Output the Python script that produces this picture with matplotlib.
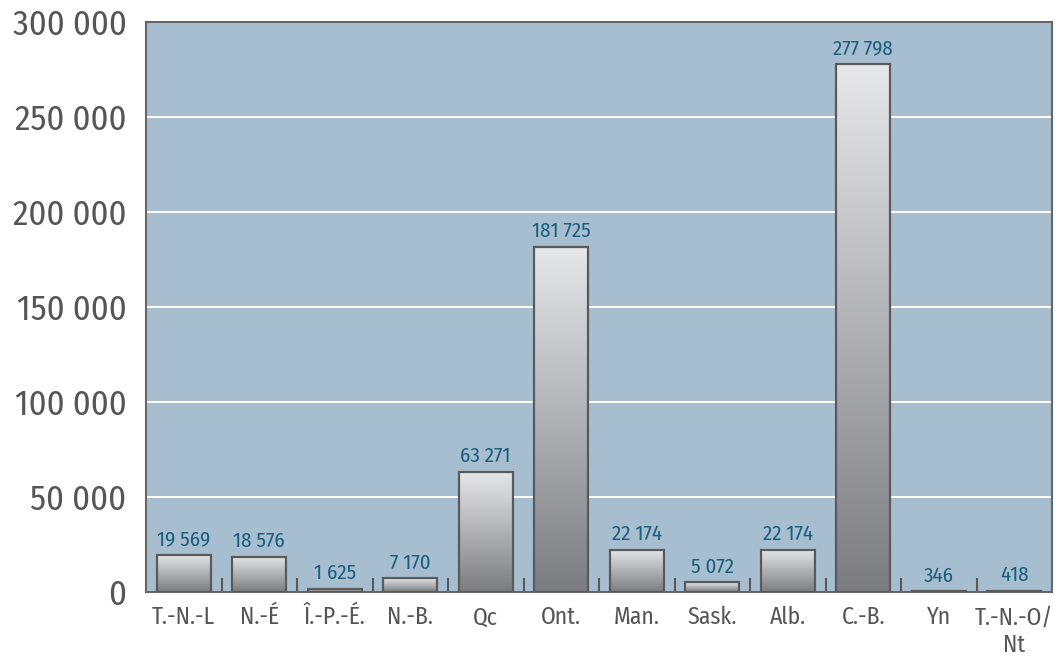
import matplotlib
matplotlib.use("Agg")
import matplotlib.pyplot as plt
import numpy as np
from matplotlib import font_manager
from matplotlib.colors import LinearSegmentedColormap

names = {f.name for f in font_manager.fontManager.ttflist}
cands = ['Fira Sans Condensed', 'PT Sans Narrow', 'Open Sans Condensed', 'Roboto Condensed',
         'Source Sans 3', 'Source Sans Pro', 'Open Sans']
chosen = next((c for c in cands if c in names), 'DejaVu Sans')
plt.rcParams['font.family'] = [chosen, 'DejaVu Sans']

categories = ["T.-N.-L", "N.-É", "Î.-P.-É.", "N.-B.", "Qc", "Ont.", "Man.", "Sask.", "Alb.", "C.-B.", "Yn", "T.-N.-O/\nNt"]
values = [19569, 18576, 1625, 7170, 63271, 181725, 22174, 5072, 22174, 277798, 346, 418]
labels = ["19 569", "18 576", "1 625", "7 170", "63 271", "181 725", "22 174", "5 072", "22 174", "277 798", "346", "418"]
yticks = [0, 50000, 100000, 150000, 200000, 250000, 300000]
yticklabels = ["0", "50 000", "100 000", "150 000", "200 000", "250 000", "300 000"]

fig = plt.figure(figsize=(10.58, 6.59), dpi=100)
ax = fig.add_axes([146/1058, 1-592/659, 906/1058, 570/659])
ax.set_facecolor('#a7bed1')
x = np.arange(len(categories))
ax.set_xlim(-0.5, len(categories)-0.5)
ax.set_ylim(0, 300000)
ax.set_yticks(yticks)
ax.set_yticklabels(yticklabels, fontsize=25, color='#555555')
for yv in yticks[1:-1]:
    ax.axhline(yv, color='white', lw=1.5, zorder=1)

grad = np.linspace(1, 0, 256).reshape(-1, 1)
cmap = LinearSegmentedColormap.from_list('g', ['#7b7c80', '#e6e7e9'])
bars = ax.bar(x, values, width=0.72, facecolor='none', edgecolor='#5a5a5a', lw=1.6, zorder=4)
for i, b in enumerate(bars):
    x0, w, h = b.get_x(), b.get_width(), b.get_height()
    im = ax.imshow(grad, extent=[x0, x0+w, 0, h], aspect='auto', cmap=cmap, vmin=0, vmax=1,
                   zorder=3, origin='upper')
    im.set_clip_path(b)
    ax.text(x0 + w/2, h + 3000, labels[i], ha='center', va='bottom', fontsize=15,
            color='#1a5e7c', zorder=5)

ax.set_xticks(x)
ax.set_xticklabels(categories, fontsize=17, color='#555555', linespacing=1.25)
ax.tick_params(axis='x', length=0, pad=10)
ax.tick_params(axis='y', length=0, pad=14)
for bd in np.arange(0.5, len(categories)-0.5, 1):
    ax.plot([bd, bd], [0, 7000], color='#5a5a5a', lw=1.5, zorder=2)
for s in ax.spines.values():
    s.set_color('#666666')
    s.set_linewidth(1.5)
fig.savefig('out.png', dpi=100)
